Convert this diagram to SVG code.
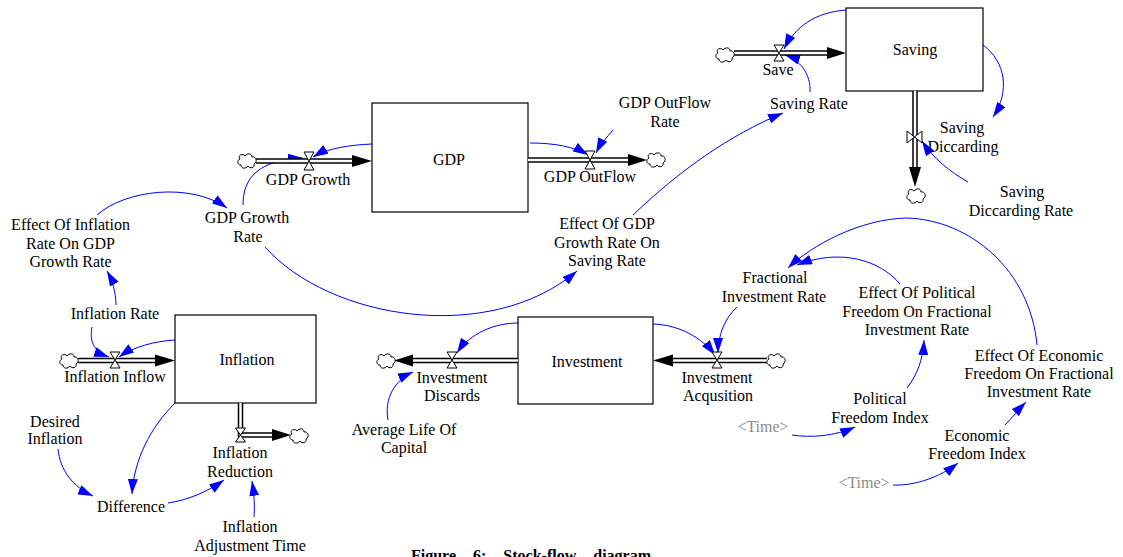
<svg xmlns="http://www.w3.org/2000/svg" width="1123" height="557" viewBox="0 0 1123 557">
<style>
text{font-family:"Liberation Serif","Times New Roman",serif;font-size:16px;fill:#000;text-anchor:middle}
.shadow{fill:#8c8c8c}
.stock{fill:#fff;stroke:#000;stroke-width:1.2}
.pipeo{fill:none;stroke:#000;stroke-width:5.5}
.pipei{fill:none;stroke:#fff;stroke-width:2.5}
.valve{fill:#fff;stroke:#000;stroke-width:1}
.head{fill:#000}
.cloud{fill:#fff;stroke:#000;stroke-width:1}
.link{fill:none;stroke:#0000ff;stroke-width:1;marker-end:url(#ah)}
.cap{font-weight:bold;font-size:16px;text-anchor:start}
</style>
<defs>
<marker id="ah" viewBox="0 0 15 10" refX="15" refY="5" markerUnits="userSpaceOnUse" markerWidth="15" markerHeight="10" orient="auto">
<path d="M0,0 L15,5 L0,10 Z" fill="#0000ff"/>
</marker>
<path id="cl" class="cloud" d="M-7,-2 C-10,-6 -4,-8 -2,-5 C0,-8 5,-8 5,-4 C9,-5 11,1 7,3 C8,7 3,8 1,5 C-1,8 -6,8 -6,4 C-10,4 -10,-1 -7,-2 Z"/>
</defs>
<rect width="1123" height="557" fill="#fff"/>

<g id="connectors">
<path class="link" d="M372,144 C350,145 328,148 313,157"/>
<path class="link" d="M243,205 C243,178 258,160 303,158"/>
<path class="link" d="M97,215 C125,190 190,182 227,208"/>
<path class="link" d="M116,305 C116,292 112,280 107,271"/>
<path class="link" d="M92,327 C89,343 95,352 109,357"/>
<path class="link" d="M175,340 C155,341 133,347 119,357"/>
<path class="link" d="M175,403 C150,428 134,460 132,494"/>
<path class="link" d="M58,449 C60,470 73,487 93,496"/>
<path class="link" d="M168,503 C188,500 207,492 224,480"/>
<path class="link" d="M254,517 C255,505 254,494 252,481"/>
<path class="link" d="M265,247 C330,320 490,345 577,271"/>
<path class="link" d="M633,215 C680,170 730,135 783,113"/>
<path class="link" d="M530,143 C555,143 575,147 588,155"/>
<path class="link" d="M613,130 C606,138 600,145 596,153"/>
<path class="link" d="M847,10 C815,12 795,27 784,49"/>
<path class="link" d="M810,92 C811,74 800,60 785,55"/>
<path class="link" d="M983,45 C1006,62 1010,92 993,117"/>
<path class="link" d="M968,182 C950,172 933,158 922,141"/>
<path class="link" d="M518,323 C495,323 470,333 457,353"/>
<path class="link" d="M388,420 C384,398 395,380 413,372"/>
<path class="link" d="M653,324 C680,325 702,338 715,355"/>
<path class="link" d="M737,307 C725,318 718,335 718,353"/>
<path class="link" d="M900,284 C880,260 840,248 797,265"/>
<path class="link" d="M1037,345 C1030,270 970,220 907,218 C860,219 812,245 788,268"/>
<path class="link" d="M907,388 C917,375 923,360 924,340"/>
<path class="link" d="M792,435 C812,438 835,436 855,427"/>
<path class="link" d="M1005,425 C1012,418 1018,410 1026,402"/>
<path class="link" d="M893,485 C915,486 940,477 958,463"/>
</g>

<g id="GDP">
<rect class="stock" x="372" y="103" width="156" height="109"/>
<text x="449" y="165">GDP</text>
</g>
<g id="GDP_Growth">
<path class="pipeo" d="M256,161 H354"/><path class="pipei" d="M256,161 H354"/>
<path class="head" d="M352,155 L372,161 L352,167 Z"/>
<use href="#cl" x="247" y="161"/>
<path class="valve" d="M304,152 L314,152 L304,170 L314,170 Z"/>
<text x="308" y="185">GDP Growth</text>
</g>
<g id="GDP_OutFlow">
<path class="pipeo" d="M528,160 H630"/><path class="pipei" d="M528,160 H630"/>
<path class="head" d="M628,154 L647,160 L628,166 Z"/>
<use href="#cl" x="656" y="160"/>
<path class="valve" d="M585,151 L595,151 L585,169 L595,169 Z"/>
<text x="590" y="182">GDP OutFlow</text>
</g>
<g id="GDP_OutFlow_Rate"><text x="665" y="108">GDP OutFlow</text><text x="665" y="127">Rate</text></g>
<g id="GDP_Growth_Rate"><text x="247" y="223">GDP Growth</text><text x="248" y="242">Rate</text></g>
<g id="Effect_Inflation_GDP"><text x="70.5" y="230">Effect Of Inflation</text><text x="70.5" y="249">Rate On GDP</text><text x="70.5" y="267">Growth Rate</text></g>

<g id="Saving">
<rect class="stock" x="846" y="8" width="137" height="83"/>
<text x="915" y="55">Saving</text>
</g>
<g id="Save">
<path class="pipeo" d="M734,53 H829"/><path class="pipei" d="M734,53 H829"/>
<path class="head" d="M827,47 L846,53 L827,59 Z"/>
<use href="#cl" x="725" y="55"/>
<path class="valve" d="M774,45 L784,45 L774,61 L784,61 Z"/>
<text x="778" y="75">Save</text>
</g>
<g id="Saving_Rate"><text x="809" y="109">Saving Rate</text></g>
<g id="Saving_Diccarding">
<path class="pipeo" d="M915,91 V169"/><path class="pipei" d="M915,91 V169"/>
<path class="head" d="M909,167 L915,187 L921,167 Z"/>
<use href="#cl" x="916" y="196"/>
<path class="valve" d="M907,131 L907,143 L922,131 L922,143 Z"/>
<text x="962" y="133">Saving</text><text x="963" y="152">Diccarding</text>
</g>
<g id="Saving_Diccarding_Rate"><text x="1022" y="197">Saving</text><text x="1021" y="216">Diccarding Rate</text></g>
<g id="Effect_GDP_Saving"><text x="607" y="229">Effect Of GDP</text><text x="607" y="248">Growth Rate On</text><text x="607" y="266">Saving Rate</text></g>

<g id="Inflation">
<rect class="stock" x="175" y="315" width="141" height="88"/>
<text x="247" y="365">Inflation</text>
</g>
<g id="Inflation_Inflow">
<path class="pipeo" d="M78,360.5 H157"/><path class="pipei" d="M78,360.5 H157"/>
<path class="head" d="M155,354.5 L175,360.5 L155,366.5 Z"/>
<use href="#cl" x="69" y="361"/>
<path class="valve" d="M110,352 L120,352 L110,368 L120,368 Z"/>
<text x="115" y="382">Inflation Inflow</text>
</g>
<g id="Inflation_Rate"><text x="115" y="319">Inflation Rate</text></g>
<g id="Inflation_Reduction">
<path class="pipeo" d="M240.5,403 V435 H274"/><path class="pipei" d="M240.5,403 V435 H274"/>
<path class="head" d="M272,429 L291,435 L272,441 Z"/>
<use href="#cl" x="299" y="436"/>
<path class="valve" d="M235.5,428 L245.5,428 L235.5,442 L245.5,442 Z"/>
<text x="240" y="458">Inflation</text><text x="240" y="477">Reduction</text>
</g>
<g id="Desired_Inflation"><text x="55" y="427">Desired</text><text x="55" y="444">Inflation</text></g>
<g id="Difference"><text x="131" y="512">Difference</text></g>
<g id="Inflation_Adjustment_Time"><text x="250" y="532">Inflation</text><text x="250" y="551">Adjustment Time</text></g>

<g id="Investment">
<rect class="stock" x="518" y="317" width="135" height="87"/>
<text x="587" y="367">Investment</text>
</g>
<g id="Investment_Discards">
<path class="pipeo" d="M518,360.5 H411"/><path class="pipei" d="M518,360.5 H411"/>
<path class="head" d="M413,354.5 L394,360.5 L413,366.5 Z"/>
<use href="#cl" x="386" y="361"/>
<path class="valve" d="M447,352 L457,352 L447,368 L457,368 Z"/>
<text x="452" y="383">Investment</text><text x="452" y="401">Discards</text>
</g>
<g id="Average_Life_Of_Capital"><text x="404" y="435">Average Life Of</text><text x="404" y="453">Capital</text></g>
<g id="Investment_Acqusition">
<path class="pipeo" d="M767,360.5 H671"/><path class="pipei" d="M767,360.5 H671"/>
<path class="head" d="M673,354.5 L653,360.5 L673,366.5 Z"/>
<use href="#cl" x="776" y="361"/>
<path class="valve" d="M712,352 L722,352 L712,368 L722,368 Z"/>
<text x="717" y="383">Investment</text><text x="718" y="401">Acqusition</text>
</g>
<g id="Fractional_Investment_Rate"><text x="775" y="283">Fractional</text><text x="774" y="302">Investment Rate</text></g>
<g id="Effect_Political"><text x="917" y="298">Effect Of Political</text><text x="917" y="317">Freedom On Fractional</text><text x="917" y="335">Investment Rate</text></g>
<g id="Effect_Economic"><text x="1039" y="361">Effect Of Economic</text><text x="1039" y="379">Freedom On Fractional</text><text x="1039" y="397">Investment Rate</text></g>
<g id="Political_Freedom_Index"><text x="880" y="404">Political</text><text x="880" y="423">Freedom Index</text></g>
<g id="Economic_Freedom_Index"><text x="977" y="441">Economic</text><text x="977" y="459">Freedom Index</text></g>
<g id="Time1"><text class="shadow" x="763" y="432">&lt;Time&gt;</text></g>
<g id="Time2"><text class="shadow" x="864" y="488">&lt;Time&gt;</text></g>

<text class="cap" x="411" y="561" word-spacing="13">Figure 6: Stock-flow diagram</text>
</svg>
